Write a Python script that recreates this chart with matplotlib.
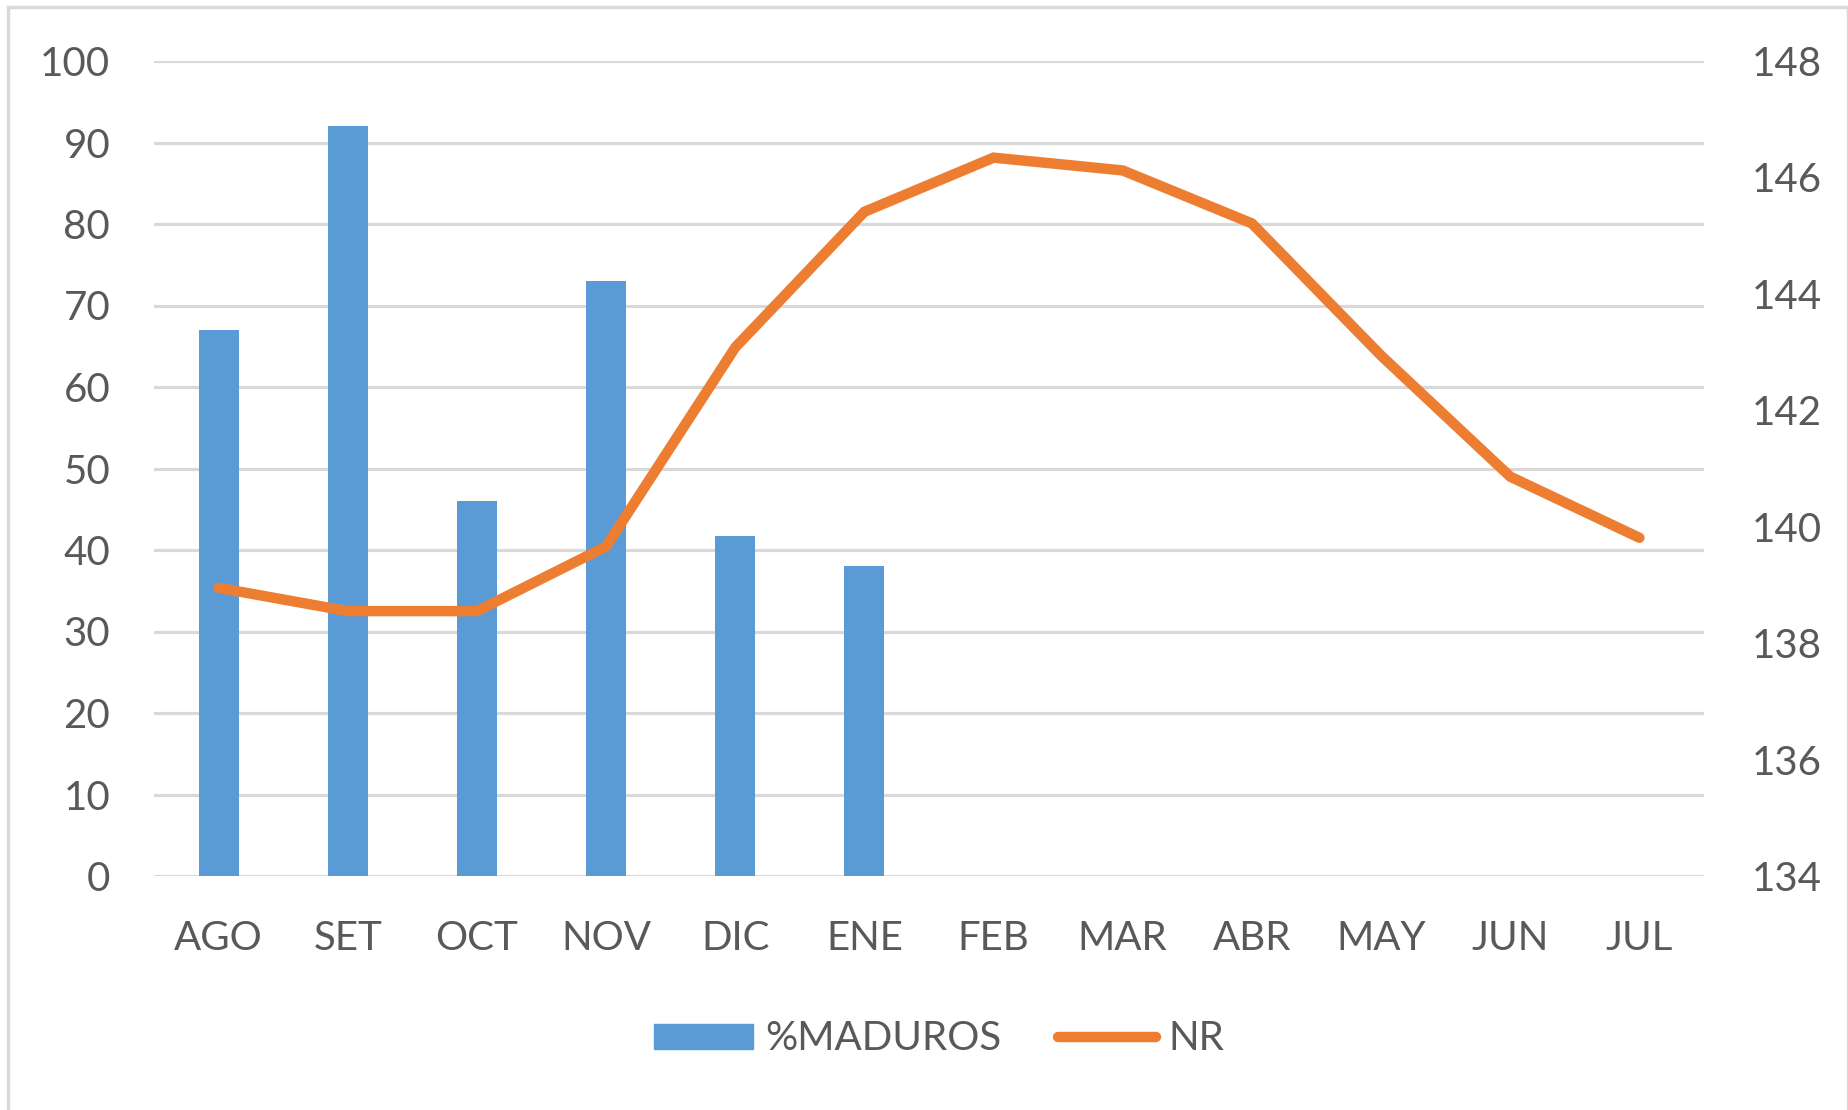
import matplotlib.pyplot as plt
from matplotlib.patches import Rectangle
from matplotlib.lines import Line2D

# datos
meses = ["AGO", "SET", "OCT", "NOV", "DIC", "ENE", "FEB", "MAR", "ABR", "MAY", "JUN", "JUL"]
maduros = [67, 92, 46, 73, 41.7, 38]
nr = [138.95, 138.55, 138.55, 139.66, 143.08, 145.41, 146.34, 146.12, 145.21, 142.94, 140.86, 139.81]

plt.rcParams['font.family'] = ['Lato', 'DejaVu Sans']
gris = "#595959"
azul = "#5B9BD5"
naranja = "#ED7D31"

fig = plt.figure(figsize=(18.49, 11.10), dpi=100)
fig.patches.append(Rectangle((8 / 1849, -0.01), 1 - 9 / 1849, 1.01 - 7 / 1110, transform=fig.transFigure,
                             fill=False, edgecolor="#d9d9d9", linewidth=2.5))

ax = fig.add_axes([154 / 1849, 1 - 876 / 1110, (1704 - 154) / 1849, (876 - 61) / 1110])
ax2 = ax.twinx()

x = list(range(len(meses)))
ax.bar(x[:len(maduros)], maduros, width=0.31, color=azul, zorder=3)
ax.set_ylim(0, 100)
ax.set_yticks(range(0, 101, 10))
ax.set_xlim(-0.5, len(meses) - 0.5)
ax.set_xticks(x)
ax.set_xticklabels(meses)
ax.grid(axis="y", color="#d9d9d9", linewidth=2.3, zorder=0)
ax.set_axisbelow(True)

ax2.plot(x, nr, color=naranja, linewidth=7.5, solid_capstyle="round", solid_joinstyle="miter", zorder=4)
ax2.set_ylim(134, 148)
ax2.set_yticks(range(134, 149, 2))

for a in (ax, ax2):
    for s in a.spines.values():
        s.set_visible(False)
    a.tick_params(length=0, colors=gris, labelsize=29)
ax.tick_params(axis="y", pad=31.5)
ax.tick_params(axis="x", pad=32)
ax2.tick_params(axis="y", pad=34.5)

handles = [Rectangle((0, 0), 1, 1, color=azul),
           Line2D([0], [0], color=naranja, linewidth=7.5, solid_capstyle="round")]
fig.legend(handles, ["%MADUROS", "NR"], loc="center", bbox_to_anchor=(0.508, 1 - 1039 / 1110),
           ncol=2, frameon=False, fontsize=29, labelcolor=gris, handlelength=2.45,
           handleheight=0.6, handletextpad=0.3, columnspacing=1.4)

fig.savefig("out.png", dpi=100, facecolor="white")
